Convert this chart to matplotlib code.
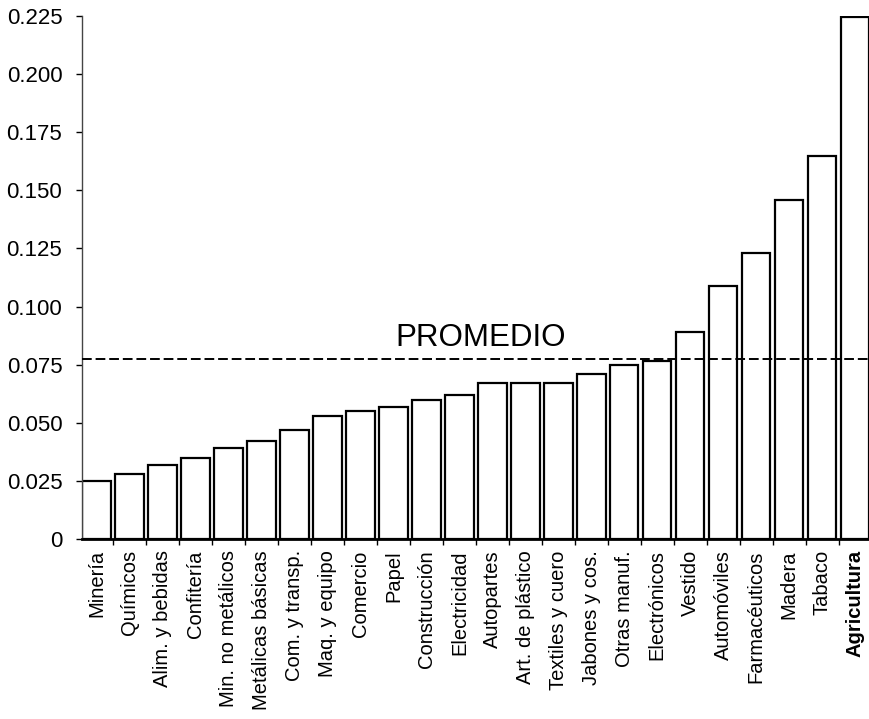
import numpy as np
import matplotlib
matplotlib.use('Agg')
import matplotlib.pyplot as plt
from matplotlib.ticker import FixedLocator

plt.rcParams['font.family'] = ['Liberation Sans', 'DejaVu Sans']

# --- data ---
sectors = ['Minería', 'Químicos', 'Alim. y bebidas', 'Confitería', 'Min. no metálicos',
           'Metálicas básicas', 'Com. y transp.', 'Maq. y equipo', 'Comercio', 'Papel',
           'Construcción', 'Electricidad', 'Autopartes', 'Art. de plástico',
           'Textiles y cuero', 'Jabones y cos.', 'Otras manuf.', 'Electrónicos',
           'Vestido', 'Automóviles', 'Farmacéuticos', 'Madera', 'Tabaco', 'Agricultura']
values = [0.025, 0.028, 0.032, 0.035, 0.039, 0.042, 0.047, 0.053, 0.055, 0.057,
          0.060, 0.062, 0.067, 0.067, 0.067, 0.071, 0.075, 0.0765,
          0.089, 0.109, 0.123, 0.146, 0.165, 0.2245]
promedio = 0.0775
yticks = [0, 0.025, 0.05, 0.075, 0.1, 0.125, 0.15, 0.175, 0.2, 0.225]
ytick_labels = ['0', '0.025', '0.050', '0.075', '0.100', '0.125', '0.150', '0.175',
                '0.200', '0.225']

fig = plt.figure(figsize=(8.7, 7.19), dpi=100)
ax = fig.add_axes([0.094, 0.2503, 0.906, 0.7274])

x = np.arange(len(sectors))
bar_w = 0.86
ax.bar(x, values, width=bar_w, color='white', edgecolor='black', linewidth=1.6, zorder=2)

# average line
ax.axhline(promedio, color='black', linestyle=(0, (5, 2)), linewidth=1.4, zorder=3)
ax.text(9.05, promedio + 0.0025, 'PROMEDIO', fontsize=22.5, ha='left', va='bottom')

ax.set_xlim(-0.45, len(sectors) - 0.55)
ax.set_ylim(0, 0.225)

ax.set_yticks(yticks)
ax.set_yticklabels(ytick_labels, fontsize=16)
ax.tick_params(axis='y', direction='out', length=4, width=1, pad=10)

ax.set_xticks(x)
ax.set_xticklabels(sectors, rotation=90, fontsize=14.5, ha='center', va='top')
ax.tick_params(axis='x', which='major', length=0, pad=8)
ax.xaxis.set_minor_locator(FixedLocator(np.arange(len(sectors) + 1) - 0.5))
ax.tick_params(axis='x', which='minor', direction='out', length=4, width=1)
ax.get_xticklabels()[-1].set_fontweight('bold')

for s in ['top', 'right']:
    ax.spines[s].set_visible(False)
ax.spines['left'].set_linewidth(1.0)
ax.spines['left'].set_color('#444444')
ax.spines['bottom'].set_linewidth(2.0)

fig.savefig('out.png', dpi=100)
